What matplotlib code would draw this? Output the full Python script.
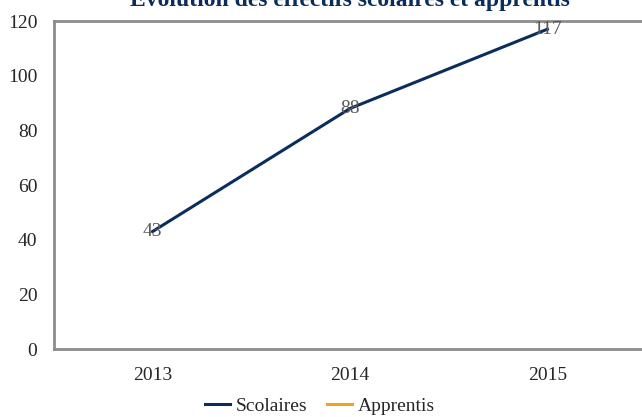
import matplotlib
matplotlib.use('Agg')
import matplotlib.pyplot as plt
import numpy as np

years = ['2013', '2014', '2015']
scolaires = [43, 88, 117]
apprentis = [np.nan, np.nan, np.nan]  # no visible values in the chart

W, H = 642, 417
fig = plt.figure(figsize=(W / 100, H / 100), dpi=100)
plt.rcParams['font.family'] = ['Liberation Serif', 'DejaVu Serif']

# axes box: left 54px, right beyond edge (646px), top 21px, bottom 349px
ax = fig.add_axes([54 / W, 1 - 349 / H, (646 - 54) / W, (349 - 21) / H])
x = np.arange(len(years))
ax.plot(x, scolaires, color='#0b2d5c', lw=2.2, label='Scolaires')
ax.plot(x, apprentis, color='#f0a31c', lw=2.2, label='Apprentis')

for xi, v in zip(x, scolaires):
    ax.text(xi, v, str(v), ha='center', va='center', fontsize=14, color='#595959')

ax.set_xlim(-0.5, len(years) - 0.5)
ax.set_ylim(0, 120)
ax.set_yticks(range(0, 121, 20))
ax.set_xticks(x)
ax.set_xticklabels(years)
ax.tick_params(length=0, labelsize=14, colors='#262626')
ax.tick_params(axis='x', pad=13)
ax.tick_params(axis='y', pad=12)
for s in ax.spines.values():
    s.set_color('#8c8c8c')
    s.set_linewidth(2)

fig.text(350 / W, 1 - 6 / H, 'Évolution des effectifs scolaires et apprentis',
         ha='center', va='baseline', fontsize=17, fontweight='bold', color='#0b2d5c')

fig.legend(loc='center', bbox_to_anchor=(320 / W, 1 - 406 / H), ncol=2, frameon=False,
           fontsize=14, handlelength=1.3, handletextpad=0.3, columnspacing=1.0,
           labelcolor='#262626')

fig.savefig('out.png', dpi=100)
